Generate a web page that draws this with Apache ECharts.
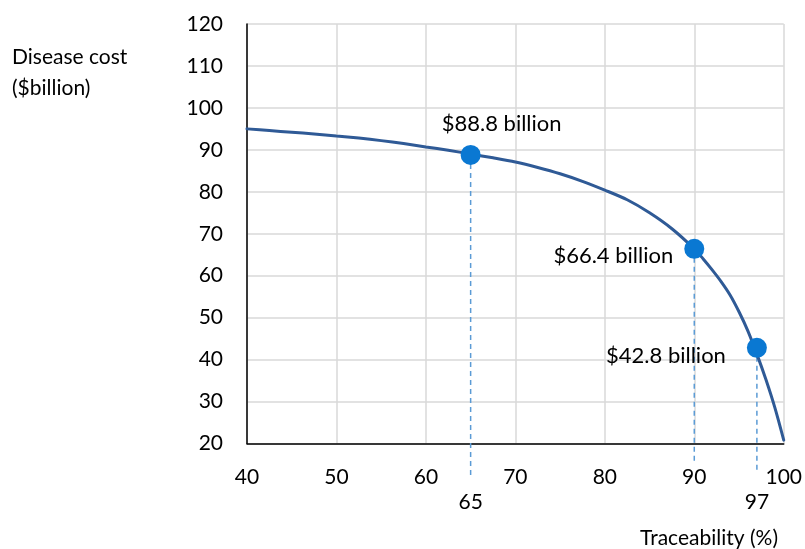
<!DOCTYPE html>
<html>
<head>
<meta charset="utf-8">
<script src="https://cdn.jsdelivr.net/npm/echarts@6/dist/echarts.min.js"></script>
<style>
  html, body { margin: 0; padding: 0; background: #ffffff; }
  #chart { width: 805px; height: 549px; }
</style>
</head>
<body>
<div id="chart"></div>
<script>
// Cost curve: disease cost ($billion) against traceability (%)
const curveX = [40, 42.5, 45, 47.5, 50, 52.5, 55, 57.5, 60, 62.5, 65, 67.5, 70, 72.5, 75, 77.5, 80, 82.5, 85, 87.5,
                90, 91, 92, 93, 94, 95, 96, 97, 98, 99, 100];
const curveY = [95.0, 94.6, 94.2, 93.8, 93.3, 92.8, 92.2, 91.5, 90.7, 89.9, 89.0, 88.1, 87.1, 85.8, 84.3, 82.5, 80.4, 78.1, 75.0, 71.2,
                66.4, 64.0, 61.4, 58.6, 55.4, 51.4, 46.8, 41.3, 35.3, 28.6, 20.8];

// Highlighted scenarios
const pointX = [65, 90, 97];
const pointY = [88.8, 66.4, 42.8];
const pointLabels = pointY.map(v => '$' + v.toFixed(1) + ' billion');
// Extra axis notes printed under the regular tick row
const pointAxisNotes = ['65', '', '97'];

const xTitle = 'Traceability (%)';
const yTitle = 'Disease cost\n($billion)';

const FONT = 'Lato';
const TEXT = '#000000';

// per-point label placement (pixels, relative to the marker centre)
const labelPlacement = [
  { align: 'center', offset: [31, -31] },
  { align: 'right', offset: [-21, 7] },
  { align: 'right', offset: [-31, 8] }
];
// how far each drop line runs below the x axis
const dropBelow = [33, 18, 28];

const chart = echarts.init(document.getElementById('chart'), null, { renderer: 'canvas' });

chart.setOption({
  backgroundColor: '#ffffff',
  animation: false,
  textStyle: { fontFamily: FONT },
  title: [
    {
      text: yTitle, left: 12, top: 42, padding: 0,
      textStyle: { fontFamily: FONT, fontSize: 21, fontWeight: 'normal', color: TEXT, lineHeight: 31 }
    },
    {
      text: xTitle, right: 27, top: 526, padding: 0,
      textStyle: { fontFamily: FONT, fontSize: 21, fontWeight: 'normal', color: TEXT, lineHeight: 24 }
    }
  ],
  grid: { left: 247, right: 21, top: 24, bottom: 105.5, containLabel: false },
  xAxis: {
    type: 'value', min: 40, max: 100, interval: 10,
    axisLine: { show: true, onZero: false, lineStyle: { color: '#000000', width: 1.5 } },
    axisTick: { show: false },
    axisLabel: { margin: 23, color: TEXT, fontFamily: FONT, fontSize: 21 },
    splitLine: { show: true, lineStyle: { color: '#d9d9d9', width: 1.5 } }
  },
  yAxis: {
    type: 'value', min: 20, max: 120, interval: 10,
    axisLine: { show: true, lineStyle: { color: '#000000', width: 1.5 } },
    axisTick: { show: false },
    axisLabel: { margin: 24, color: TEXT, fontFamily: FONT, fontSize: 21 },
    splitLine: { show: true, lineStyle: { color: '#d9d9d9', width: 1.5 } }
  },
  series: [
    {
      // dashed drop lines and the extra axis notes
      type: 'custom',
      z: 2,
      clip: false,
      data: pointX.map((x, i) => [x, pointY[i], i]),
      renderItem: function (params, api) {
        const i = api.value(2);
        const top = api.coord([api.value(0), api.value(1)]);
        const base = api.coord([api.value(0), 20]);
        const children = [{
          type: 'line',
          shape: { x1: top[0], y1: top[1], x2: top[0], y2: base[1] + dropBelow[i] },
          style: { stroke: '#5b9bd5', lineWidth: 1.5, lineDash: [5, 4] }
        }];
        if (pointAxisNotes[i]) {
          children.push({
            type: 'text',
            style: {
              text: pointAxisNotes[i], x: top[0], y: base[1] + 59,
              align: 'center', verticalAlign: 'middle',
              font: '21px ' + FONT, fill: TEXT
            }
          });
        }
        return { type: 'group', children: children };
      }
    },
    {
      type: 'line',
      z: 3,
      data: curveX.map((x, i) => [x, curveY[i]]),
      smooth: 0.3,
      showSymbol: false,
      lineStyle: { color: '#2f5a96', width: 3, cap: 'round' },
      silent: true
    },
    {
      type: 'scatter',
      z: 4,
      symbol: 'circle',
      symbolSize: 20,
      itemStyle: { color: '#0a78d2', opacity: 1 },
      data: pointX.map((x, i) => ({
        value: [x, pointY[i]],
        label: {
          show: true,
          position: 'inside',
          formatter: pointLabels[i],
          align: labelPlacement[i].align,
          verticalAlign: 'middle',
          offset: labelPlacement[i].offset,
          color: TEXT,
          fontFamily: FONT,
          fontSize: 22
        }
      }))
    }
  ]
});
</script>
</body>
</html>
